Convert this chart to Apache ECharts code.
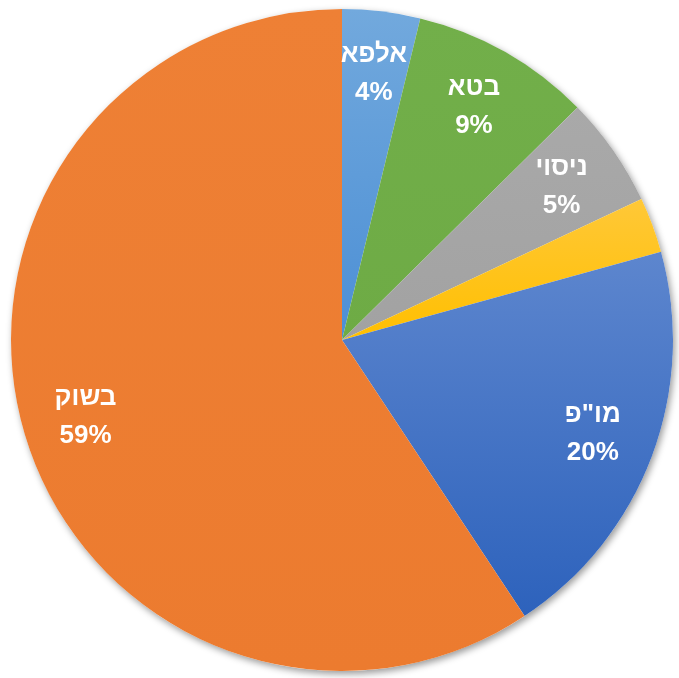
<!DOCTYPE html>
<html>
<head>
<meta charset="utf-8">
<script src="https://cdn.jsdelivr.net/npm/echarts@6/dist/echarts.min.js"></script>
<style>
  html, body { margin: 0; padding: 0; background: #fff; }
  #chart { width: 679px; height: 678px; }
</style>
</head>
<body>
<div id="chart"></div>
<script>
// slice names, clockwise from 12 o'clock
const names = ['אלפא', 'בטא', 'ניסוי', 'אחר', 'מו"פ', 'בשוק']
// shares (percent)
const values = [3.8, 8.8, 5.4, 2.7, 20.0, 59.3]
// which slices carry a label
const showLabel = [true, true, true, false, true, true]

// colours: [top, bottom] of the soft vertical gradient
const colors = [
  ['#72a9dd', '#4c8fd5'],
  ['#72af4a', '#6eab45'],
  ['#a9a9a9', '#a2a2a2'],
  ['#ffc838', '#ffbf00'],
  ['#5d86ce', '#2d62bc'],
  ['#ee8035', '#ec7b2f'],
]

const grad = (c) =>
  new echarts.graphic.LinearGradient(0, 0, 0, 1, [
    { offset: 0, color: c[0] },
    { offset: 1, color: c[1] },
  ])

const total = values.reduce((a, b) => a + b, 0)

const chart = echarts.init(document.getElementById('chart'))

const center = [342, 340]
const R = 331

chart.setOption({
  animation: false,
  series: [
    // soft drop shadow under the whole disc
    {
      type: 'pie',
      silent: true,
      center,
      radius: [0, R],
      z: 1,
      label: { show: false },
      itemStyle: {
        color: '#ffffff',
        shadowBlur: 7,
        shadowOffsetX: 2,
        shadowOffsetY: 3,
        shadowColor: 'rgba(0,0,0,0.4)',
      },
      data: [{ value: 1 }],
    },
    // the slices
    {
      type: 'pie',
      silent: true,
      center,
      radius: [0, R],
      z: 2,
      label: { show: false },
      labelLine: { show: false },
      data: values.map((v, i) => ({
        name: names[i],
        value: v,
        itemStyle: { color: grad(colors[i]) },
      })),
    },
    // invisible copy, only used to place labels at ~0.8 R
    {
      type: 'pie',
      silent: true,
      center,
      radius: [0, R * 1.6],
      z: 3,
      itemStyle: { color: 'rgba(0,0,0,0)' },
      labelLine: { show: false },
      label: {
        show: true,
        position: 'inside',
        color: '#ffffff',
        fontFamily: '"Liberation Sans", "DejaVu Sans", sans-serif',
        fontWeight: 'bold',
        fontSize: 26,
        lineHeight: 38,
        formatter: (p) => p.name + '\n' + Math.round((p.value / total) * 100) + '%',
      },
      data: values.map((v, i) => ({
        name: names[i],
        value: v,
        label: { show: showLabel[i] },
      })),
    },
  ],
})
</script>
</body>
</html>
